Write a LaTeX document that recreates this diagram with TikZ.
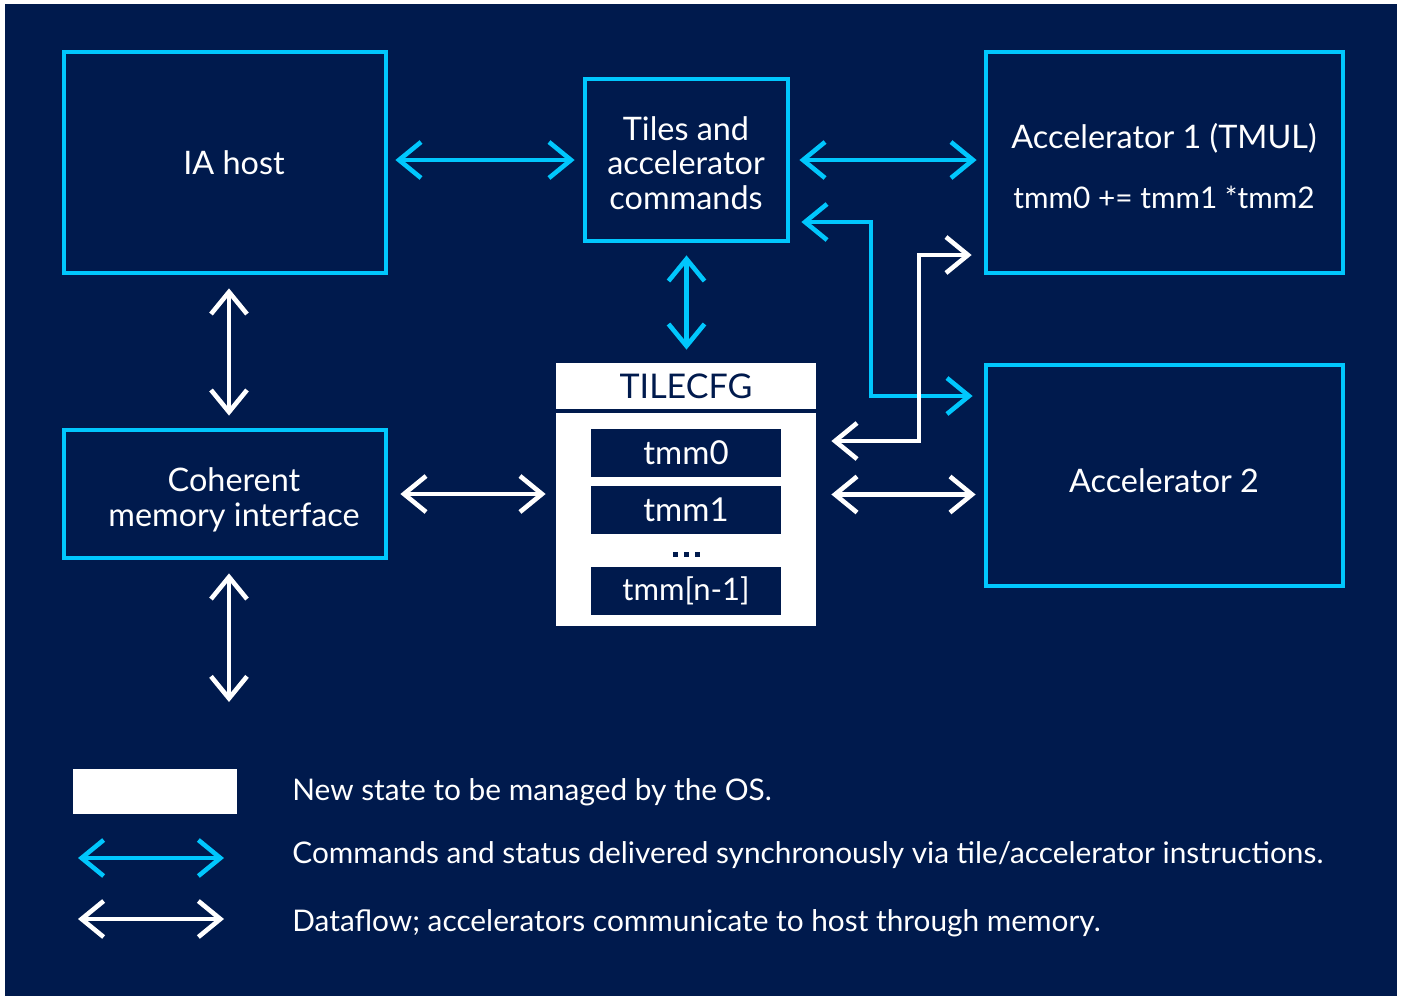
\documentclass[tikz,border=0pt]{standalone}
\usepackage{fontspec}
\setmainfont{Lato}
\usetikzlibrary{arrows.meta}
\definecolor{navy}{RGB}{0,26,77}
\definecolor{icyan}{RGB}{0,199,253}
\begin{document}
\begin{tikzpicture}[x=0.5pt, y=-0.5pt,
        box/.style={draw=icyan, line width=2.4pt, inner sep=0pt},
        txt/.style={text=white, align=center, inner sep=0pt, font=\fontsize{16.2}{17.25}\selectfont},
        reg/.style={fill=navy, text=white, minimum width=95pt, minimum height=24pt, inner sep=0pt,
            font=\fontsize{16.5}{17}\selectfont},
        note/.style={anchor=west, text=white, inner sep=0pt, font=\fontsize{14.9}{17}\selectfont},
        cmd/.style={icyan, line width=2.3pt,
            {Straight Barb[length=11pt,width=18pt]}-{Straight Barb[length=11pt,width=18pt]}},
        flow/.style={cmd, white}]
    \useasboundingbox (0,0) rectangle (1401,996);
    \fill[navy] (5,4) rectangle (1397,996);
    % blocks
    \node[box, minimum width=161pt, minimum height=110.5pt] (host) at (225,162.5) {};
    \node[box, minimum width=101.5pt, minimum height=81pt] (tiles) at (686.5,160) {};
    \node[box, minimum width=178.5pt, minimum height=110.5pt] (acc1) at (1164.5,162.5) {};
    \node[box, minimum width=178.5pt, minimum height=110.5pt] (acc2) at (1164.5,475.5) {};
    \node[box, minimum width=161pt, minimum height=64pt] (cmi) at (225,494) {};
    \node[txt] (hostlbl) at (234,163) {IA host};
    \node[txt] (tileslbl) at (686,163) {Tiles and\\accelerator\\commands};
    \node[txt] (acc1lbl) at (1164,138) {Accelerator 1 (TMUL)};
    \node[txt, font=\fontsize{14.9}{17}\selectfont] (acc1op) at (1164,197) {tmm0 += tmm1 *tmm2};
    \node[txt] (acc2lbl) at (1164,481) {Accelerator 2};
    \node[txt] (cmilbl) at (234,500) {Coherent\\memory interface};
    % tile state
    \node[fill=white, minimum width=130pt, minimum height=131.5pt, inner sep=0pt] (tilecfg) at (686,494.5) {};
    \node[text=navy, font=\fontsize{17}{17}\selectfont] (cfghead) at (686,386) {TILECFG};
    \draw[navy, line width=2.2pt] ([yshift=-24.25pt]tilecfg.north west) -- ([yshift=-24.25pt]tilecfg.north east);
    \node[reg] (tmm0) at (686,453) {tmm0};
    \node[reg] (tmm1) at (686,510) {tmm1};
    \foreach \x in {675,686,697} \fill[navy] (\x,554.5) +(-2.5,-2.5) rectangle +(2.5,2.5);
    \node[reg, font=\fontsize{15.5}{17}\selectfont] (tmmn) at (686,591) {tmm[n-1]};
    % connectors
    \coordinate (b1) at (871,222);
    \coordinate (b2) at (871,396);
    \coordinate (b3) at (919,255);
    \coordinate (b4) at (919,441);
    \coordinate (mem) at (229,702);
    \draw[cmd, shorten <=3.5pt, shorten >=4pt] (host.east |- tiles.west) -- (tiles.west);
    \draw[cmd, shorten <=4.5pt, shorten >=3.5pt] (tiles.east) -- (tiles.east -| acc1.west);
    \draw[cmd, shorten <=6pt, shorten >=6.5pt] (tiles.south) -- (tiles.south |- tilecfg.north);
    \draw[cmd, shorten <=5.5pt, shorten >=5.5pt] (b1 -| tiles.east) -- (b1) -- (b2) -- (b2 -| acc2.west);
    \draw[flow, shorten <=6pt, shorten >=7.5pt] (b3 -| acc1.west) -- (b3) -- (b4) -- (b4 -| tilecfg.east);
    \draw[flow, shorten <=7.5pt, shorten >=4pt] (tilecfg.east) -- (tilecfg.east -| acc2.west);
    \draw[flow, shorten <=6pt, shorten >=5pt] (cmi.east) -- (cmi.east -| tilecfg.west);
    \draw[flow, shorten <=6.5pt, shorten >=6pt] (host.south -| mem) -- (cmi.north -| mem);
    \draw[flow, shorten <=6.5pt] (cmi.south -| mem) -- (mem);
    % legend
    \node[fill=white, minimum width=82pt, minimum height=22.5pt, inner sep=0pt] (key) at (155,791.5) {};
    \coordinate (k1a) at (78,858);
    \coordinate (k1b) at (224,858);
    \coordinate (k2a) at (78,919);
    \coordinate (k2b) at (224,919);
    \draw[cmd] (k1a) -- (k1b);
    \draw[flow] (k2a) -- (k2b);
    \node[note] (t1) at (292,792) {New state to be managed by the OS.};
    \node[note] (t2) at (292,855) {Commands and status delivered synchronously via tile/accelerator instructions.};
    \node[note] (t3) at (292,923) {Dataflow; accelerators communicate to host through memory.};
\end{tikzpicture}
\end{document}
